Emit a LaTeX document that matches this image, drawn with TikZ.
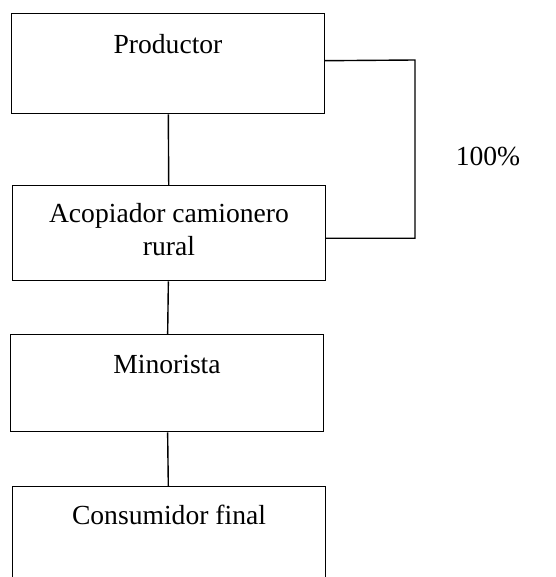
\documentclass[tikz,border=0pt]{standalone}
\usepackage{fontspec}
\setmainfont{Liberation Serif}
\usetikzlibrary{positioning}

\tikzset{
	etapa/.style={draw, line width=1.4pt, minimum width=313pt, inner sep=0pt,
		align=center, font=\fontsize{27.6}{33}\selectfont, anchor=north},
	enlace/.style={line width=1.4pt}
}

\begin{document}
\begin{tikzpicture}[x=1pt,y=-1pt]
	\useasboundingbox (0,0) rectangle (555,577);
	\clip (0,0) rectangle (555,577);

	% cadena
	\node[etapa, text height=40pt, text depth=60pt] (prod) at (168,13) {Productor};
	\node[etapa, text height=70pt, text depth=25pt] (acop) at (169,185) {Acopiador camionero\\rural};
	\node[etapa, text height=39pt, text depth=58pt] (mino) at (167,334) {Minorista};
	\node[etapa, text height=38pt, text depth=70pt] (cons) at (169,486) {Consumidor final};

	\draw[enlace] (prod) -- (acop);
	\draw[enlace] (acop) -- (mino);
	\draw[enlace] (mino) -- (cons);

	% retorno
	\coordinate (esq) at (415,60);
	\draw[enlace] ([yshift=3pt]prod.east) -- (esq) |- ([yshift=-5pt]acop.east);
	\node[font=\fontsize{27.6}{33}\selectfont] (pct) at (488,157) {100\%};

\end{tikzpicture}
\end{document}
